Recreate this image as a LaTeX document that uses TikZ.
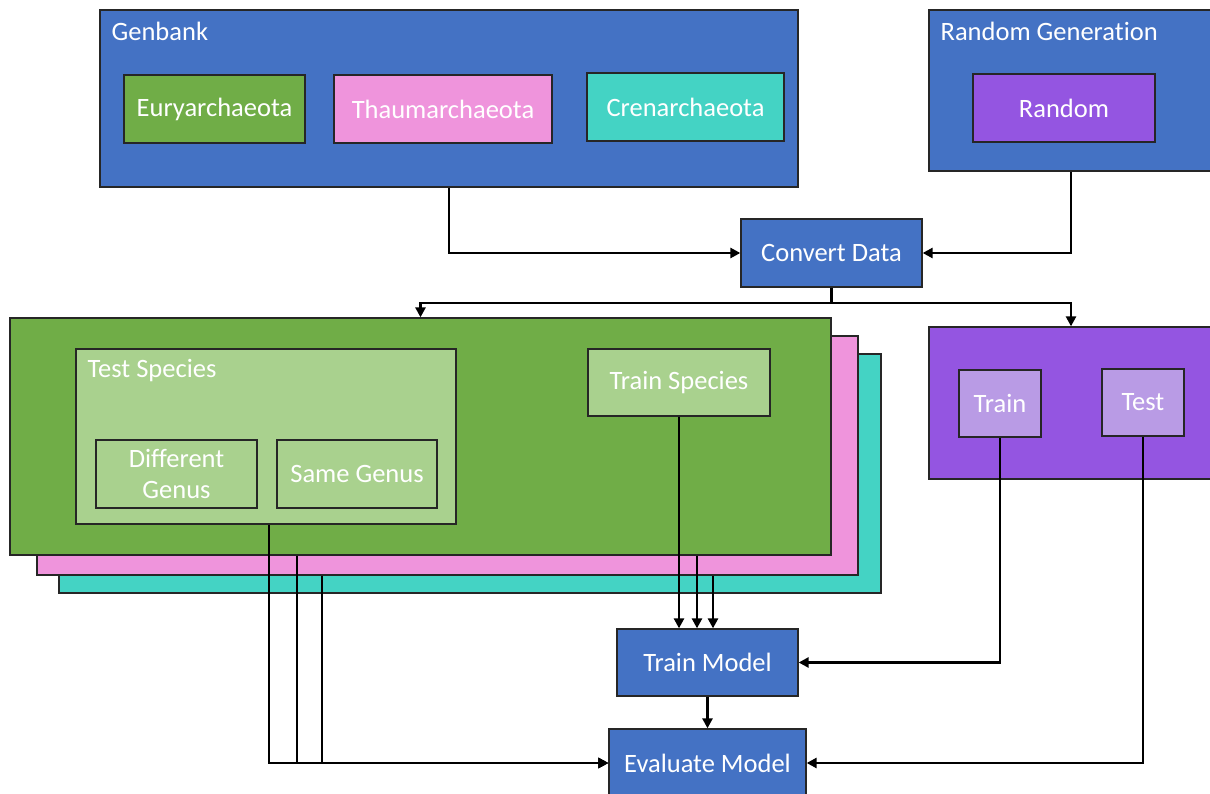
\documentclass[tikz,border=0pt]{standalone}
\usepackage{fontspec}
\setmainfont{Carlito}[Ligatures=NoCommon]
\usetikzlibrary{arrows.meta}

\definecolor{cblue}{HTML}{4472C4}
\definecolor{cgreen}{HTML}{70AD47}
\definecolor{clgreen}{HTML}{A9D18E}
\definecolor{cpink}{HTML}{EF94DC}
\definecolor{cturq}{HTML}{44D3C4}
\definecolor{cpurple}{HTML}{9455E1}
\definecolor{clpurple}{HTML}{B99BE5}
\definecolor{cedge}{HTML}{262626}

\begin{document}
\begin{tikzpicture}[
  x=1pt, y=-1pt,
  every node/.style={
    draw=cedge,
    line width=1.3pt,
    inner sep=0pt,
    text=white,
    font=\fontsize{26.5}{31}\selectfont
  },
  lbl/.style={draw=none, anchor=west},
  flow/.style={
    -{Triangle[length=10pt,width=10pt]},
    line width=2.6pt
  }
]
  \useasboundingbox (0,0) rectangle (1210,794);

  % sources
  \node[fill=cblue, minimum width=698, minimum height=177] (genbank) at (449,98.5) {};
  \node[lbl] (genbanklbl) at (111,31) {Genbank};
  \node[fill=cgreen, minimum width=181, minimum height=68] (eury) at (214.5,109) {Euryarchaeota};
  \node[fill=cpink, minimum width=218, minimum height=68] (thaum) at (443,109) {Thaumarchaeota};
  \node[fill=cturq, minimum width=197, minimum height=68] (cren) at (685.5,107) {Crenarchaeota};

  \node[fill=cblue, minimum width=284, minimum height=161] (randgen) at (1071,90.5) {};
  \node[lbl] (randgenlbl) at (940,31) {Random Generation};
  \node[fill=cpurple, minimum width=182, minimum height=68] (random) at (1064,108) {Random};

  \node[fill=cblue, minimum width=181, minimum height=68] (convert) at (831.5,253) {Convert Data};

  % stacked data sets
  \node[fill=cturq, minimum width=822, minimum height=239] (turq) at (470,473.5) {};
  \node[fill=cpink, minimum width=821, minimum height=239] (pink) at (447.5,455.5) {};
  \node[fill=cgreen, minimum width=821, minimum height=237] (green) at (420.5,436.5) {};

  \node[fill=clgreen, minimum width=380, minimum height=175] (testsp) at (266,436.5) {};
  \node[lbl] (testsplbl) at (87,371) {Test Species};
  \node[fill=clgreen, minimum width=161, minimum height=68, align=center] (diffgenus) at (176.5,474) {Different\\Genus};
  \node[fill=clgreen, minimum width=160, minimum height=68] (samegenus) at (357,474) {Same Genus};
  \node[fill=clgreen, minimum width=182, minimum height=67] (trainsp) at (679,382.5) {Train Species};

  % random split
  \node[fill=cpurple, minimum width=284, minimum height=152] (randsplit) at (1071,403) {};
  \node[fill=clpurple, minimum width=82, minimum height=67] (train) at (1000,403.5) {Train};
  \node[fill=clpurple, minimum width=82, minimum height=67] (test) at (1143,402.5) {Test};

  % model
  \node[fill=cblue, minimum width=181, minimum height=67] (trainmodel) at (707.5,662.5) {Train Model};
  \node[fill=cblue, minimum width=197, minimum height=68] (evalmodel) at (707.5,763) {Evaluate Model};

  \coordinate (split) at (831.5,303);
  \coordinate (t1) at ([xshift=3pt]testsp.south);
  \coordinate (t2) at ([xshift=-123.5pt]green.south);
  \coordinate (t3) at ([xshift=-125.5pt]pink.south);
  \coordinate (s2) at ([xshift=276.5pt]green.south);
  \coordinate (s3) at ([xshift=265.5pt]pink.south);

  \draw[flow] (genbank.south) |- (convert.west);
  \draw[flow] (randgen.south) |- (convert.east);
  \draw[flow] (convert.south) -- (split) -| (green.north);
  \draw[flow] (split) -| (randsplit.north);

  \draw[flow] (trainsp.south) -- (trainsp.south |- trainmodel.north);
  \draw[flow] (s2) -- (s2 |- trainmodel.north);
  \draw[flow] (s3) -- (s3 |- trainmodel.north);
  \draw[flow] (train.south) |- (trainmodel.east);

  \draw[flow] (t1) |- (evalmodel.west);
  \draw[flow] (t2) |- (evalmodel.west);
  \draw[flow] (t3) |- (evalmodel.west);
  \draw[flow] (test.south) |- (evalmodel.east);
  \draw[flow] (trainmodel) -- (evalmodel);
\end{tikzpicture}
\end{document}
